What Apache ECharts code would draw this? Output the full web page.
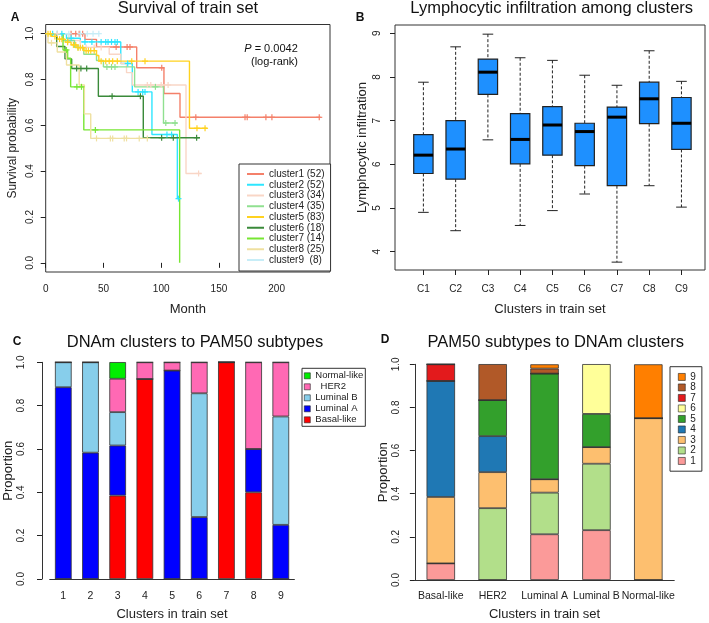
<!DOCTYPE html>
<html>
<head>
<meta charset="utf-8">
<script src="https://cdn.jsdelivr.net/npm/echarts@6/dist/echarts.min.js"></script>
<style>
  html, body { margin: 0; padding: 0; background: #fff; }
  #chart { width: 709px; height: 623px; }
</style>
</head>
<body>
<div id="chart"></div>
<script>
// panel A: Kaplan-Meier steps [month, survival] and censor marks
const clusterNames = ['cluster1 (52)', 'cluster2 (52)', 'cluster3 (34)', 'cluster4 (35)', 'cluster5 (83)',
  'cluster6 (18)', 'cluster7 (14)', 'cluster8 (25)', 'cluster9  (8)']
const clusterColors = ['#F4806A', '#2EE6FF', '#F9D6C6', '#90E090', '#FFD21F', '#3A8A3A', '#77E633', '#EFE0A0', '#C7EDF7']
const km1 = [[0, 1], [34, 0.975], [44, 0.942], [78.8, 0.851], [102.4, 0.739], [116.3, 0.635], [238, 0.635]]
const km2 = [[0, 1], [18, 0.98], [30, 0.964], [65, 0.87], [75, 0.746], [92, 0.56], [114, 0.28], [115.5, 0.28]]
const km3 = [[0, 1], [20, 0.97], [30, 0.94], [55, 0.91], [65, 0.87], [70, 0.83], [75, 0.776], [121.5, 0.39], [135, 0.39]]
const km4 = [[0, 1], [15, 0.97], [25, 0.94], [33, 0.91], [44, 0.883], [50, 0.855], [77, 0.768], [102, 0.61], [114, 0.61]]
const km5 = [[0, 1], [5, 0.988], [10, 0.976], [17, 0.963], [22, 0.951], [27, 0.939], [33, 0.926], [44, 0.905], [46, 0.88], [124.5, 0.587], [140, 0.587]]
const km6 = [[0, 1], [9.5, 0.944], [16.7, 0.89], [22.5, 0.848], [45.6, 0.727], [84.5, 0.546], [133.6, 0.546]]
const km7 = [[0, 1], [15, 0.929], [19, 0.893], [21.6, 0.768], [33, 0.58], [116, 0]]
const km8 = [[0, 1], [2, 0.96], [10, 0.92], [18, 0.863], [29, 0.776], [33.5, 0.65], [39, 0.543], [88, 0.543]]
const km9 = [[0, 1], [46, 1]]
const cens1 = [[22, 1], [26, 1], [29, 1], [32, 1], [61, 0.942], [70.5, 0.942], [73, 0.942], [100.5, 0.851], [130, 0.635], [172.6, 0.635], [174.5, 0.635], [190.7, 0.635], [195.9, 0.635], [236.9, 0.635]]
const cens2 = [[6, 1], [10, 1], [14, 1], [22, 0.98], [34, 0.964], [40, 0.964], [48, 0.964], [52, 0.964], [54, 0.964], [57, 0.964], [60, 0.964], [62, 0.964], [71, 0.87], [80, 0.746], [84, 0.746], [86, 0.746], [105, 0.56], [109, 0.56], [115, 0.28]]
const cens3 = [[10, 1], [35, 0.94], [42, 0.94], [48, 0.94], [88, 0.776], [91, 0.776], [100, 0.776], [106, 0.776], [132.4, 0.39]]
const cens4 = [[19, 0.97], [28, 0.94], [53, 0.855], [57, 0.855], [60, 0.855], [95, 0.768], [104, 0.61], [112, 0.61]]
const cens5 = [[2, 1], [4, 1], [8, 0.988], [12, 0.976], [14, 0.976], [19, 0.963], [24, 0.951], [26, 0.951], [28, 0.939], [30, 0.939], [32, 0.939], [35, 0.926], [37, 0.926], [39, 0.926], [42, 0.926], [48, 0.88], [52, 0.88], [55, 0.88], [58, 0.88], [62, 0.88], [74.5, 0.88], [86, 0.88], [131, 0.587], [138, 0.587]]
const cens6 = [[26.8, 0.848], [30.5, 0.848], [35.5, 0.848], [57.5, 0.727], [82, 0.727], [100.4, 0.546], [110.5, 0.546], [130.7, 0.546]]
const cens7 = [[18, 0.929], [27, 0.768], [31, 0.768], [43, 0.58]]
const cens8 = [[5, 0.96], [44, 0.543], [56, 0.543], [58, 0.543], [68, 0.543], [70, 0.543], [81, 0.543], [88, 0.543]]
const cens9 = [[20, 1], [30, 1], [36, 1], [41, 1], [46, 1]]
const monthTicks = [0, 50, 100, 150, 200]
const survTicks = [0, 0.2, 0.4, 0.6, 0.8, 1]

// panel B: boxplot stats
const bCats = ['C1', 'C2', 'C3', 'C4', 'C5', 'C6', 'C7', 'C8', 'C9']
const bLow = [4.90, 4.48, 6.56, 4.60, 4.94, 5.32, 3.76, 5.51, 5.02]
const bQ1 = [5.79, 5.66, 7.60, 6.01, 6.21, 5.97, 5.51, 6.93, 6.34]
const bMed = [6.21, 6.35, 8.11, 6.57, 6.90, 6.75, 7.08, 7.50, 6.94]
const bQ3 = [6.68, 7.00, 8.41, 7.16, 7.32, 6.94, 7.31, 7.88, 7.53]
const bHigh = [7.88, 8.69, 8.98, 8.44, 8.38, 8.04, 7.81, 8.60, 7.90]
const lymphTicks = [4, 5, 6, 7, 8, 9]

// panel C: PAM50 proportions per cluster
const cCats = ['1', '2', '3', '4', '5', '6', '7', '8', '9']
const cBasal = [0, 0, 0.385, 0.923, 0, 0, 1, 0.4, 0]
const cLumA = [0.885, 0.583, 0.231, 0, 0.962, 0.286, 0, 0.2, 0.25]
const cLumB = [0.115, 0.417, 0.154, 0, 0, 0.571, 0, 0, 0.5]
const cHER2 = [0, 0, 0.154, 0.077, 0.038, 0.143, 0, 0.4, 0.25]
const cNormal = [0, 0, 0.077, 0, 0, 0, 0, 0, 0]

// panel D: cluster proportions per PAM50 subtype
const dCats = ['Basal-like', 'HER2', 'Luminal A', 'Luminal B', 'Normal-like']
const d1 = [0.077, 0, 0.212, 0.231, 0]
const d2 = [0, 0.333, 0.193, 0.308, 0]
const d3 = [0.308, 0.167, 0.062, 0.077, 0.75]
const d4 = [0.538, 0.167, 0, 0, 0]
const d5 = [0, 0.167, 0.49, 0.154, 0]
const d6 = [0, 0, 0, 0.231, 0]
const d7 = [0.077, 0, 0, 0, 0]
const d8 = [0, 0.167, 0.023, 0, 0]
const d9 = [0, 0, 0.02, 0, 0.25]

const FONT = 'Liberation Sans, Arial, Helvetica, sans-serif'
const INK = '#222'

const chart = echarts.init(document.getElementById('chart'), null, { renderer: 'canvas' })

function renderCross(params, api) {
  const p = api.coord([api.value(0), api.value(1)])
  const s = 3
  const st = { stroke: api.visual('color'), lineWidth: 1.2 }
  return {
    type: 'group',
    children: [
      { type: 'line', shape: { x1: p[0] - s, y1: p[1], x2: p[0] + s, y2: p[1] }, style: st },
      { type: 'line', shape: { x1: p[0], y1: p[1] - s, x2: p[0], y2: p[1] + s }, style: st }
    ]
  }
}

function renderBox(params, api) {
  const x = api.value(0)
  const lo = api.coord([x, api.value(1)])
  const q1 = api.coord([x, api.value(2)])
  const md = api.coord([x, api.value(3)])
  const q3 = api.coord([x, api.value(4)])
  const hi = api.coord([x, api.value(5)])
  const bw = api.size([0.6, 0])[0]
  const cw = api.size([0.33, 0])[0]
  const cx = lo[0]
  const dash = { stroke: INK, lineWidth: 1, lineDash: [3, 2] }
  const solid = { stroke: INK, lineWidth: 1 }
  return {
    type: 'group',
    children: [
      { type: 'line', shape: { x1: cx, y1: hi[1], x2: cx, y2: q3[1] }, style: dash },
      { type: 'line', shape: { x1: cx, y1: q1[1], x2: cx, y2: lo[1] }, style: dash },
      { type: 'line', shape: { x1: cx - cw / 2, y1: hi[1], x2: cx + cw / 2, y2: hi[1] }, style: solid },
      { type: 'line', shape: { x1: cx - cw / 2, y1: lo[1], x2: cx + cw / 2, y2: lo[1] }, style: solid },
      { type: 'rect', shape: { x: cx - bw / 2, y: q3[1], width: bw, height: q1[1] - q3[1] }, style: { fill: '#1E90FF', stroke: INK, lineWidth: 1.2 } },
      { type: 'line', shape: { x1: cx - bw / 2, y1: md[1], x2: cx + bw / 2, y2: md[1] }, style: { stroke: '#000', lineWidth: 3 } }
    ]
  }
}

const kmData = [km1, km2, km3, km4, km5, km6, km7, km8, km9]
const censData = [cens1, cens2, cens3, cens4, cens5, cens6, cens7, cens8, cens9]

const kmSeries = kmData.map((d, i) => ({
  type: 'line',
  name: clusterNames[i],
  xAxisIndex: 0,
  yAxisIndex: 0,
  step: 'end',
  symbol: 'none',
  data: d,
  lineStyle: { color: clusterColors[i], width: 1.4 },
  itemStyle: { color: clusterColors[i] },
  z: 2
}))
const censSeries = censData.map((d, i) => ({
  type: 'custom',
  name: 'cens' + (i + 1),
  xAxisIndex: 0,
  yAxisIndex: 0,
  renderItem: renderCross,
  data: d,
  itemStyle: { color: clusterColors[i] },
  z: 3
}))

const boxSeries = {
  type: 'custom',
  name: 'lymph',
  xAxisIndex: 1,
  yAxisIndex: 1,
  renderItem: renderBox,
  encode: { x: 0, y: [1, 2, 3, 4, 5] },
  data: bCats.map((c, i) => [i + 1, bLow[i], bQ1[i], bMed[i], bQ3[i], bHigh[i]])
}

const cSeries = [
  ['Basal-like', cBasal, '#FF0000'],
  ['Luminal A', cLumA, '#0000FF'],
  ['Luminal B', cLumB, '#87CEEB'],
  ['HER2', cHER2, '#FF69B4'],
  ['Normal-like', cNormal, '#00EE00']
].map(([name, data, color]) => ({
  type: 'bar', name, data, stack: 'c', xAxisIndex: 2, yAxisIndex: 2, barWidth: 16.7,
  itemStyle: { color, borderColor: '#333', borderWidth: 0.8 }
}))

const dColors = ['#FB9A99', '#B2DF8A', '#FDBF6F', '#1F78B4', '#33A02C', '#FFFF99', '#E31A1C', '#B15928', '#FF7F00']
const dSeries = [d1, d2, d3, d4, d5, d6, d7, d8, d9].map((data, i) => ({
  type: 'bar', name: String(i + 1), data, stack: 'd', xAxisIndex: 3, yAxisIndex: 3, barWidth: 28.5,
  itemStyle: { color: dColors[i], borderColor: '#333', borderWidth: 0.8 }
}))

const tickLabel = { fontFamily: FONT, fontSize: 10, color: INK }
const nameStyle = { fontFamily: FONT, fontSize: 13, color: INK }
const tick = { show: true, length: 5, lineStyle: { color: INK } }

function text(x, y, str, size, weight) {
  return {
    type: 'text', x, y,
    style: { text: str, font: (weight || 'normal') + ' ' + size + 'px ' + FONT, fill: '#111',
      textAlign: 'center', textVerticalAlign: 'middle', align: 'center', verticalAlign: 'middle' }
  }
}

chart.setOption({
  animation: false,
  backgroundColor: '#fff',
  grid: [
    { left: 45.7, top: 24.5, width: 284.3, height: 247.5, show: true, borderColor: '#333', borderWidth: 1 },
    { left: 395, top: 25, width: 310, height: 245, show: true, borderColor: '#333', borderWidth: 1 },
    { left: 49.7, top: 362.3, width: 244.7, height: 216.7 },
    { left: 414.85, top: 364.3, width: 259.4, height: 215.7 }
  ],
  xAxis: [
    {
      type: 'value', gridIndex: 0, min: 0, max: 246.2,
      axisLine: { show: false }, splitLine: { show: false },
      axisTick: Object.assign({ customValues: monthTicks }, tick),
      axisLabel: Object.assign({ customValues: monthTicks, margin: 12 }, tickLabel),
      name: 'Month', nameLocation: 'middle', nameGap: 31, nameTextStyle: nameStyle
    },
    {
      type: 'value', gridIndex: 1, min: 0.12, max: 9.73,
      axisLine: { show: false }, splitLine: { show: false },
      axisTick: Object.assign({ customValues: [1, 2, 3, 4, 5, 6, 7, 8, 9] }, tick),
      axisLabel: Object.assign({ customValues: [1, 2, 3, 4, 5, 6, 7, 8, 9], margin: 14, formatter: v => bCats[v - 1] }, tickLabel),
      name: 'Clusters in train set', nameLocation: 'middle', nameGap: 33, nameTextStyle: nameStyle
    },
    {
      type: 'category', gridIndex: 2, data: cCats,
      axisLine: { show: true, lineStyle: { color: '#333' } }, axisTick: { show: false },
      axisLabel: Object.assign({ interval: 0, margin: 12 }, tickLabel, { fontSize: 10.5 }),
      name: 'Clusters in train set', nameLocation: 'middle', nameGap: 29, nameTextStyle: nameStyle
    },
    {
      type: 'category', gridIndex: 3, data: dCats,
      axisLine: { show: true, lineStyle: { color: '#333' } }, axisTick: { show: false },
      axisLabel: Object.assign({ interval: 0, margin: 11 }, tickLabel, { fontSize: 10.5 }),
      name: 'Clusters in train set', nameLocation: 'middle', nameGap: 28, nameTextStyle: nameStyle
    }
  ],
  yAxis: [
    {
      type: 'value', gridIndex: 0, min: -0.04, max: 1.04,
      axisLine: { show: false }, splitLine: { show: false },
      axisTick: Object.assign({ customValues: survTicks }, tick),
      axisLabel: Object.assign({ customValues: survTicks, rotate: 90, margin: 10, formatter: v => v.toFixed(1) }, tickLabel),
      name: 'Survival probability', nameLocation: 'middle', nameRotate: 90, nameGap: 27,
      nameTextStyle: Object.assign({}, nameStyle, { fontSize: 12 })
    },
    {
      type: 'value', gridIndex: 1, min: 3.58, max: 9.19,
      axisLine: { show: false }, splitLine: { show: false },
      axisTick: Object.assign({ customValues: lymphTicks }, tick),
      axisLabel: Object.assign({ customValues: lymphTicks, rotate: 90, margin: 13 }, tickLabel),
      name: 'Lymphocytic infiltration', nameLocation: 'middle', nameRotate: 90, nameGap: 26, nameTextStyle: nameStyle
    },
    {
      type: 'value', gridIndex: 2, min: 0, max: 1, interval: 0.2, offset: 7.7,
      axisLine: { show: true, lineStyle: { color: '#333' } }, splitLine: { show: false },
      axisTick: tick,
      axisLabel: Object.assign({ rotate: 90, margin: 16, formatter: v => v.toFixed(1) }, tickLabel),
      name: 'Proportion', nameLocation: 'middle', nameRotate: 90, nameGap: 18, nameTextStyle: nameStyle
    },
    {
      type: 'value', gridIndex: 3, min: 0, max: 1, interval: 0.2,
      axisLine: { show: true, lineStyle: { color: '#333' } }, splitLine: { show: false },
      axisTick: tick,
      axisLabel: Object.assign({ rotate: 90, margin: 14, formatter: v => v.toFixed(1) }, tickLabel),
      name: 'Proportion', nameLocation: 'middle', nameRotate: 90, nameGap: 25, nameTextStyle: nameStyle
    }
  ],
  legend: [
    {
      data: clusterNames, orient: 'vertical', left: 239, top: 164,
      padding: [5, 6, 6, 7], itemWidth: 17, itemHeight: 10, itemGap: 0.75,
      backgroundColor: '#fff', borderColor: '#333', borderWidth: 1, borderRadius: 0,
      selectedMode: false,
      itemStyle: { opacity: 0 },
      textStyle: { fontFamily: FONT, fontSize: 10, color: INK, lineHeight: 10 }
    },
    {
      data: ['Normal-like', 'HER2', 'Luminal B', 'Luminal A', 'Basal-like'],
      orient: 'vertical', left: 302, top: 368.3, icon: 'rect',
      padding: [2, 2, 1, 2], itemWidth: 6, itemHeight: 6, itemGap: 0,
      borderColor: '#333', borderWidth: 1, borderRadius: 0, selectedMode: false,
      itemStyle: { borderColor: '#222', borderWidth: 0.6 },
      formatter: n => (n === 'HER2' ? '  HER2' : n),
      textStyle: { fontFamily: FONT, fontSize: 9.5, color: INK, lineHeight: 11 }
    },
    {
      data: ['9', '8', '7', '6', '5', '4', '3', '2', '1'],
      orient: 'vertical', left: 670, top: 366.7, icon: 'rect',
      padding: [5, 6, 5, 8], itemWidth: 7, itemHeight: 7, itemGap: 0,
      borderColor: '#333', borderWidth: 1, borderRadius: 0, selectedMode: false,
      itemStyle: { borderColor: '#222', borderWidth: 0.6 },
      textStyle: { fontFamily: FONT, fontSize: 10, color: INK, lineHeight: 10.5 }
    }
  ],
  graphic: [
    text(188, 8, 'Survival of train set', 16.5),
    text(551.7, 8, 'Lymphocytic infiltration among clusters', 16.5),
    text(195, 342, 'DNAm clusters to PAM50 subtypes', 16.5),
    text(555.7, 342, 'PAM50 subtypes to DNAm clusters', 16.5),
    text(15, 18, 'A', 12, 'bold'),
    text(360, 18, 'B', 12, 'bold'),
    text(17, 342, 'C', 12, 'bold'),
    text(385, 340, 'D', 12, 'bold'),
    {
      type: 'text', x: 271, y: 49,
      style: {
        text: '{i|P} = 0.0042', font: '11px ' + FONT, fill: '#111',
        textAlign: 'center', textVerticalAlign: 'middle', align: 'center', verticalAlign: 'middle',
        rich: { i: { fontStyle: 'italic', fontFamily: FONT, fontSize: 11 } }
      }
    },
    text(274.5, 62, '(log-rank)', 11)
  ],
  series: [].concat(kmSeries, censSeries, [boxSeries], cSeries, dSeries)
})
</script>
</body>
</html>
